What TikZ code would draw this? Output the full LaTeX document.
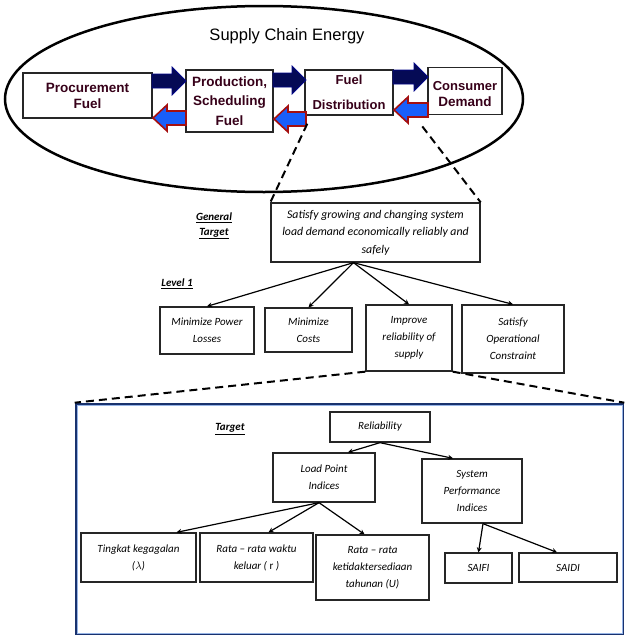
\documentclass[tikz,border=0pt]{standalone}
\usepackage{fontspec}
\setmainfont{Carlito}
\newfontfamily\arialfont{Liberation Sans}
\usetikzlibrary{shapes.geometric,arrows.meta,calc}

\definecolor{navyfill}{RGB}{5,10,85}
\definecolor{bluefill}{RGB}{25,95,250}
\definecolor{redrim}{RGB}{165,15,15}
\definecolor{frameblue}{RGB}{25,50,110}
\definecolor{framelight}{RGB}{150,180,230}
\definecolor{stageink}{RGB}{55,0,25}

% block arrows between the chain stages: tail x, tip x, centre y
\newcommand{\rightblock}[3]{%
  \filldraw[navyblock] (#1,{#3-7}) -- ({#2-14},{#3-7}) -- ({#2-14},{#3-14}) -- (#2,#3)
    -- ({#2-14},{#3+14}) -- ({#2-14},{#3+7}) -- (#1,{#3+7}) -- cycle;}
\newcommand{\leftblock}[3]{%
  \filldraw[blueblock] (#1,{#3-7}) -- ({#2+14},{#3-7}) -- ({#2+14},{#3-13}) -- (#2,#3)
    -- ({#2+14},{#3+13}) -- ({#2+14},{#3+7}) -- (#1,{#3+7}) -- cycle;}

\begin{document}
\begin{tikzpicture}[x=1pt,y=-1pt,
  stagebox/.style={draw=black!85, line width=1.4pt, fill=white, align=center, inner sep=0pt,
    text=stageink, font=\arialfont\bfseries\fontsize{13.5}{16}\selectfont},
  goalbox/.style={draw=black!85, line width=1.3pt, fill=white, align=center, inner sep=0pt,
    font=\itshape\fontsize{11}{17}\selectfont},
  tag/.style={font=\bfseries\itshape\fontsize{11}{15}\selectfont, align=center, inner sep=0pt},
  link/.style={-{Stealth[length=5pt,width=5pt]}, line width=1.2pt},
  zoomline/.style={dash pattern=on 8pt off 5pt, line width=2pt},
  navyblock/.style={fill=navyfill, draw=navyfill!70!blue, line width=0.8pt},
  blueblock/.style={fill=bluefill, draw=redrim, line width=1.6pt}]

\useasboundingbox[fill=white] (0,0) rectangle (626,637);

% ---- supply chain ellipse ----
\node[ellipse, draw, line width=2.5pt, minimum width=518pt, minimum height=186pt, inner sep=0pt] (chain) at (264,99) {};
\node[font=\arialfont\fontsize{16.5}{18}\selectfont] (title) at (287,36) {Supply Chain Energy};

\node[stagebox, minimum width=129pt, minimum height=45pt] (proc) at (87.5,95.5) {Procurement\\Fuel};
\node[stagebox, minimum width=87pt, minimum height=62pt, font=\arialfont\bfseries\fontsize{13.5}{19.5}\selectfont] (prod) at (229.5,101) {Production,\\Scheduling\\Fuel};
\node[stagebox, minimum width=88pt, minimum height=45pt, font=\arialfont\bfseries\fontsize{13}{25}\selectfont] (dist) at (349,92.5) {Fuel\\Distribution};
\node[stagebox, minimum width=74pt, minimum height=47pt, anchor=north, inner sep=0pt] (cons) at (465,67) {\rule{0pt}{14pt}\fontsize{13}{14}\selectfont Consumer\\Demand};

\rightblock{152}{186}{81}
\rightblock{273}{306}{80}
\rightblock{393}{428}{77}
\leftblock{186}{153}{118}
\leftblock{306}{274}{119}
\leftblock{428}{394}{110}

% ---- general target and level 1 ----
\node[goalbox, minimum width=209pt, minimum height=59pt, font=\itshape\fontsize{11.8}{17.5}\selectfont] (gen) at (375.5,232.5)
  {Satisfy growing and changing system\\load demand economically reliably and\\safely};
\node[tag] (gentag) at (214,226) {\underline{General}\\\underline{Target}};
\node[tag] (lvltag) at (177,284) {\underline{Level 1}};

\draw[zoomline] ([shift={(3,8)}]dist.south west) -- (gen.north west);
\draw[zoomline] ([shift={(-5,11)}]cons.south west) -- (gen.north east);

\node[goalbox, minimum width=94pt, minimum height=47pt] (b1) at (207,330.5) {Minimize Power\\Losses};
\node[goalbox, minimum width=87pt, minimum height=44pt] (b2) at (308.5,330) {Minimize\\Costs};
\node[goalbox, minimum width=86pt, minimum height=66pt] (b3) at (409,338) {Improve\\reliability of\\supply};
\node[goalbox, minimum width=102pt, minimum height=68pt] (b4) at (513,339) {Satisfy\\Operational\\Constraint};

\coordinate (apex) at ([xshift=-22pt]gen.south);
\foreach \b in {b1,b2,b3,b4} \draw[link] (apex) -- (\b.north);

% ---- reliability detail frame ----
\node[draw=frameblue, line width=2.6pt, minimum width=547pt, minimum height=230pt, inner sep=0pt] (frame) at (349.5,519) {};
\draw[framelight, line width=0.8pt] ([shift={(2.2,2.2)}]frame.north west) rectangle ([shift={(-2.2,-2.2)}]frame.south east);
\draw[zoomline] (b3.south west) -- (frame.north west);
\draw[zoomline] (b3.south east) -- (frame.north east);

\node[tag] (tgttag) at (230,429) {\underline{Target}};

\node[goalbox, minimum width=100pt, minimum height=30pt] (rel) at (380,427) {Reliability};
\node[goalbox, minimum width=102pt, minimum height=49pt] (lp) at (324,477.5) {Load Point\\Indices};
\node[goalbox, minimum width=100pt, minimum height=64pt] (sp) at (472,491) {System\\Performance\\Indices};
\node[goalbox, minimum width=115pt, minimum height=49pt] (ting) at (138.5,557.5) {Tingkat kegagalan\\($\lambda$)};
\node[goalbox, minimum width=113pt, minimum height=49pt] (rw) at (256.5,557.5) {Rata – rata waktu\\keluar ( \emph{r} )};
\node[goalbox, minimum width=113pt, minimum height=65pt] (ru) at (372.5,567.5) {Rata – rata\\ketidaktersediaan\\tahunan (U)};
\node[goalbox, minimum width=67pt, minimum height=30pt] (saifi) at (478.5,568) {SAIFI};
\node[goalbox, minimum width=98pt, minimum height=29pt] (saidi) at (568,567.5) {SAIDI};

\draw[link] (rel.south) -- ([xshift=24pt]lp.north);
\draw[link] (rel.south) -- ([xshift=-19pt]sp.north);
\draw[link] ([xshift=-5pt]lp.south) -- ([xshift=38pt]ting.north);
\draw[link] ([xshift=-5pt]lp.south) -- ([xshift=12pt]rw.north);
\draw[link] ([xshift=-5pt]lp.south) -- ([xshift=-8pt]ru.north);
\draw[link] ([xshift=11pt]sp.south) -- (saifi.north);
\draw[link] ([xshift=11pt]sp.south) -- ([xshift=-11pt]saidi.north);

\end{tikzpicture}
\end{document}
